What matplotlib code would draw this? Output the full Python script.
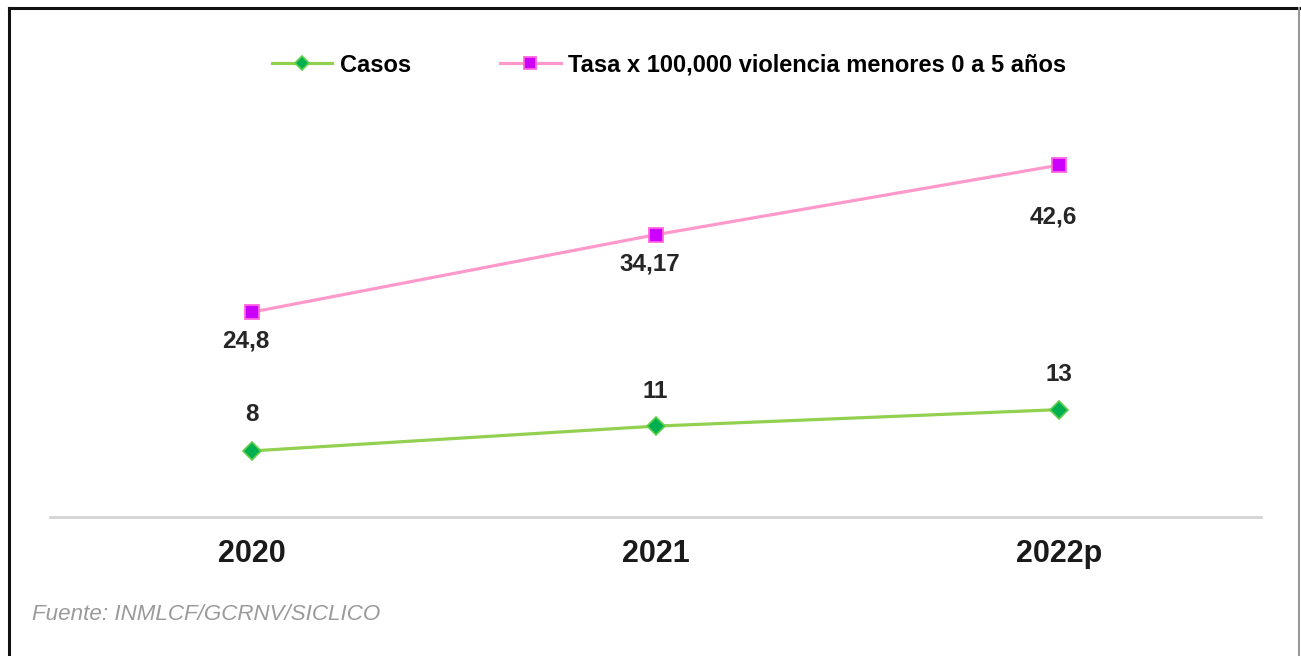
import matplotlib.pyplot as plt
from matplotlib.lines import Line2D
import numpy as np

plt.rcParams['font.family'] = ['Liberation Sans', 'DejaVu Sans']

years = ['2020', '2021', '2022p']
casos = [8, 11, 13]
tasa = [24.8, 34.17, 42.6]
source = 'Fuente: INMLCF/GCRNV/SICLICO'

W, H = 1301, 656
fig = plt.figure(figsize=(W / 100, H / 100), dpi=100)
ax = fig.add_axes([50 / W, 1 - 517 / H, (1261 - 50) / W, (517 - 104) / H])

x = np.arange(len(years))

ax.plot(x, tasa, color='#ff99cc', lw=2.3, marker='s', markersize=10,
        markerfacecolor='#cc00ff', markeredgecolor='#ff66dd', markeredgewidth=1.3,
        label='Tasa x 100,000 violencia menores 0 a 5 años', zorder=3)
ax.plot(x, casos, color='#92d050', lw=2.3, marker='D', markersize=9.5,
        markerfacecolor='#00b050', markeredgecolor='#5fd04a', markeredgewidth=1.2,
        label='Casos', zorder=3)

def fmt(v):
    return f"{v:g}".replace('.', ',')

# label offsets in points (below for tasa, above for casos)
tasa_dy = [-21, -21, -37]
casos_dy = [26, 25, 25]
for i in x:
    ax.annotate(fmt(tasa[i]), (i, tasa[i]), xytext=(-4, tasa_dy[i]), textcoords='offset points',
                ha='center', va='center', fontsize=17.5, fontweight='bold', color='#262626')
    ax.annotate(fmt(casos[i]), (i, casos[i]), xytext=(0, casos_dy[i]), textcoords='offset points',
                ha='center', va='center', fontsize=17.5, fontweight='bold', color='#262626')

ax.set_xlim(-0.5, len(years) - 0.5)
ax.set_ylim(0, 50)
ax.set_xticks(x)
ax.set_xticklabels(years, fontsize=22, fontweight='bold', color='#1a1a1a')
ax.tick_params(axis='x', length=0, pad=16)
ax.set_yticks([])
for s in ['top', 'right', 'left']:
    ax.spines[s].set_visible(False)
ax.spines['bottom'].set_color('#d4d4d4')
ax.spines['bottom'].set_linewidth(2)

h, l = ax.get_legend_handles_labels()
fig.legend(h[::-1], l[::-1], loc='center', bbox_to_anchor=(669 / W, 1 - 65 / H), ncol=2,
           frameon=False, prop={'weight': 'bold', 'size': 17},
           handlelength=2.55, handletextpad=0.3, columnspacing=3.8, markerscale=0.8)

fig.text(32 / W, 1 - 615 / H, source, fontsize=16.1, style='italic', color='#9a9a9a',
         ha='left', va='center')

# outer frame
fig.add_artist(Line2D([9 / W, 1299 / W], [1 - 8 / H, 1 - 8 / H], color='#111111', lw=2.2))
fig.add_artist(Line2D([9 / W, 9 / W], [0, 1 - 8 / H], color='#111111', lw=2.2))
fig.add_artist(Line2D([1299 / W, 1299 / W], [0, 1 - 8 / H], color='#999999', lw=1.5))

fig.savefig('out.png', dpi=100)
